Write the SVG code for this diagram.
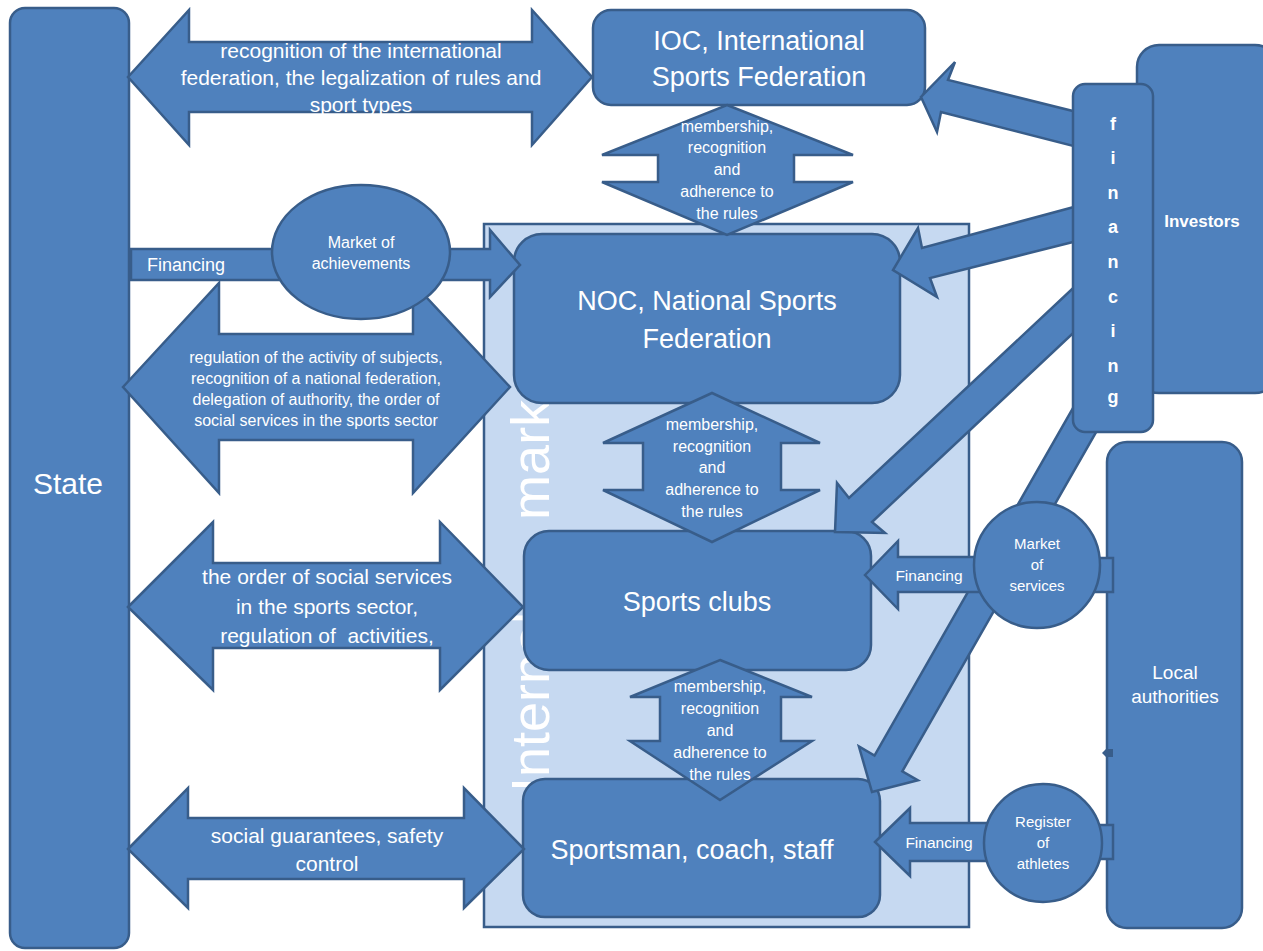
<svg xmlns="http://www.w3.org/2000/svg" width="1263" height="951" viewBox="0 0 1263 951">
<style>
.s{fill:#4F81BD;stroke:#385D8A;stroke-width:2.5;stroke-linejoin:miter}
.bg{fill:#C6D9F1;stroke:#385D8A;stroke-width:2.5}
text{font-family:"Liberation Sans",Arial,sans-serif;fill:#FFFFFF;text-anchor:middle}
.b{font-weight:bold}
</style>
<rect width="1263" height="951" fill="#FFFFFF"/>
<g id="internal-market">
<rect class="bg" x="484" y="224" width="485" height="703"/>
<text x="549" y="792" font-size="54" word-spacing="77" transform="rotate(-90 549 792)" style="text-anchor:start">Internal market</text>
</g>
<g id="state"><rect class="s" x="10" y="8" width="119" height="940" rx="15"/><text x="68" y="494" font-size="30">State</text></g>
<g id="investors"><rect class="s" x="1137" y="45" width="140" height="348" rx="22"/><text class="b" x="1202" y="227" font-size="17">Investors</text></g>
<g id="local-authorities"><rect class="s" x="1107" y="442" width="135" height="486" rx="20"/><text x="1175" y="679" font-size="19">Local</text><text x="1175" y="703" font-size="19">authorities</text>
<path d="M1113,749 L1106,749 L1102,753 L1106,757 L1113,757 Z" fill="#385D8A"/></g>
<g id="ioc"><rect class="s" x="593" y="10" width="332" height="95" rx="18"/><text x="759" y="50" font-size="27">IOC, International</text><text x="759" y="86" font-size="27">Sports Federation</text></g>
<g id="noc"><rect class="s" x="514" y="234" width="386" height="169" rx="28"/><text x="707" y="310" font-size="27">NOC, National Sports</text><text x="707" y="348" font-size="27">Federation</text></g>
<g id="sports-clubs"><rect class="s" x="524" y="531" width="347" height="139" rx="25"/><text x="697" y="611" font-size="27">Sports clubs</text></g>
<g id="sportsman"><rect class="s" x="523" y="779" width="357" height="138" rx="22"/><text x="692" y="859" font-size="27">Sportsman, coach, staff</text></g>
<g id="connectors">
<polygon class="s" points="128,77 189,10 189,42 532,42 532,10 592,77 532,145 532,112 189,112 189,145"/>
<text x="361" y="58" font-size="21">recognition of the international</text>
<text x="361" y="85" font-size="21">federation, the legalization of rules and</text>
<text x="361" y="112" font-size="21">sport types</text>
<polygon class="s" points="131,249 490,249 490,230 520,265 490,297 490,280 131,280"/>
<text x="186" y="271" font-size="18">Financing</text>
<polygon class="s" points="123,387 219,283 219,334 413,334 413,283 510,387 413,493 413,440 219,440 219,493"/>
<text x="316" y="363" font-size="16">regulation of the activity of subjects,</text>
<text x="316" y="384" font-size="16">recognition of a national federation,</text>
<text x="316" y="405" font-size="16">delegation of authority, the order of</text>
<text x="316" y="426" font-size="16">social services in the sports sector</text>
<polygon class="s" points="128,607 213,522 213,563 440,563 440,522 523,607 440,690 440,648 213,648 213,690"/>
<text x="327" y="584" font-size="21">the order of social services</text>
<text x="327" y="614" font-size="21">in the sports sector,</text>
<text x="327" y="643" font-size="21" xml:space="preserve" style="white-space:pre">regulation of  activities,</text>
<polygon class="s" points="128,849 188,788 188,818 464,818 464,788 524,849 464,908 464,879 188,879 188,908"/>
<text x="327" y="843" font-size="21">social guarantees, safety</text>
<text x="327" y="871" font-size="21">control</text>
<polygon class="s" points="727,105 853,155 794,155 794,182 853,182 727,235 602,182 658,182 658,155 602,155"/>
<text x="727" y="132" font-size="16">membership,</text><text x="727" y="153" font-size="16">recognition</text><text x="727" y="175" font-size="16">and</text><text x="727" y="197" font-size="16">adherence to</text><text x="727" y="219" font-size="16">the rules</text>
<polygon class="s" points="712,393 820,443 781,443 781,490 820,490 712,542 603,490 643,490 643,443 603,443"/>
<text x="712" y="430" font-size="16">membership,</text><text x="712" y="452" font-size="16">recognition</text><text x="712" y="473" font-size="16">and</text><text x="712" y="495" font-size="16">adherence to</text><text x="712" y="517" font-size="16">the rules</text>
<polygon class="s" points="720,660 812,697 781,697 781,741 812,741 720,800 630,741 660,741 660,697 630,697"/>
<text x="720" y="692" font-size="16">membership,</text><text x="720" y="714" font-size="16">recognition</text><text x="720" y="736" font-size="16">and</text><text x="720" y="758" font-size="16">adherence to</text><text x="720" y="780" font-size="16">the rules</text>
<polygon class="s" points="1085,114 948,80 955,62 921,97 937,132 941,112 1085,149"/>
<polygon class="s" points="1085,204 922,248 918,228 893,270 937,297 930,278 1085,239"/>
<polygon class="s" points="1085,277 849,498 837,483 835,532 885,533 872,522 1085,322"/>
<polygon class="s" points="1082.1,392.1 874.5,755.5 858.9,746.5 872,792 917.9,780.3 902.3,771.3 1109.9,407.9"/>
<polygon class="s" points="865,575 898,541 898,557 990,557 990,592 898,592 898,609"/>
<text x="929" y="581" font-size="15.5">Financing</text>
<polygon class="s" points="875,842 910,808 910,823 995,823 995,861 910,861 910,876"/>
<text x="939" y="848" font-size="15.5">Financing</text>
<rect class="s" x="1090" y="558" width="23" height="34"/>
<rect class="s" x="1090" y="825" width="23" height="34"/>
</g>
<g id="market-of-achievements"><ellipse class="s" cx="361" cy="252" rx="89" ry="67"/><text x="361" y="248" font-size="16">Market of</text><text x="361" y="269" font-size="16">achievements</text></g>
<g id="financing"><rect class="s" x="1073" y="84" width="80" height="348" rx="12"/>
<text class="b" x="1113" y="130" font-size="18">f</text><text class="b" x="1113" y="164" font-size="18">i</text><text class="b" x="1113" y="199" font-size="18">n</text><text class="b" x="1113" y="233" font-size="18">a</text><text class="b" x="1113" y="268" font-size="18">n</text><text class="b" x="1113" y="303" font-size="18">c</text><text class="b" x="1113" y="337" font-size="18">i</text><text class="b" x="1113" y="372" font-size="18">n</text><text class="b" x="1113" y="403" font-size="18">g</text></g>
<g id="market-of-services"><circle class="s" cx="1037" cy="565" r="63"/><text x="1037" y="549" font-size="15">Market</text><text x="1037" y="570" font-size="15">of</text><text x="1037" y="591" font-size="15">services</text></g>
<g id="register-of-athletes"><circle class="s" cx="1043" cy="843" r="59"/><text x="1043" y="827" font-size="15">Register</text><text x="1043" y="848" font-size="15">of</text><text x="1043" y="869" font-size="15">athletes</text></g>
</svg>
